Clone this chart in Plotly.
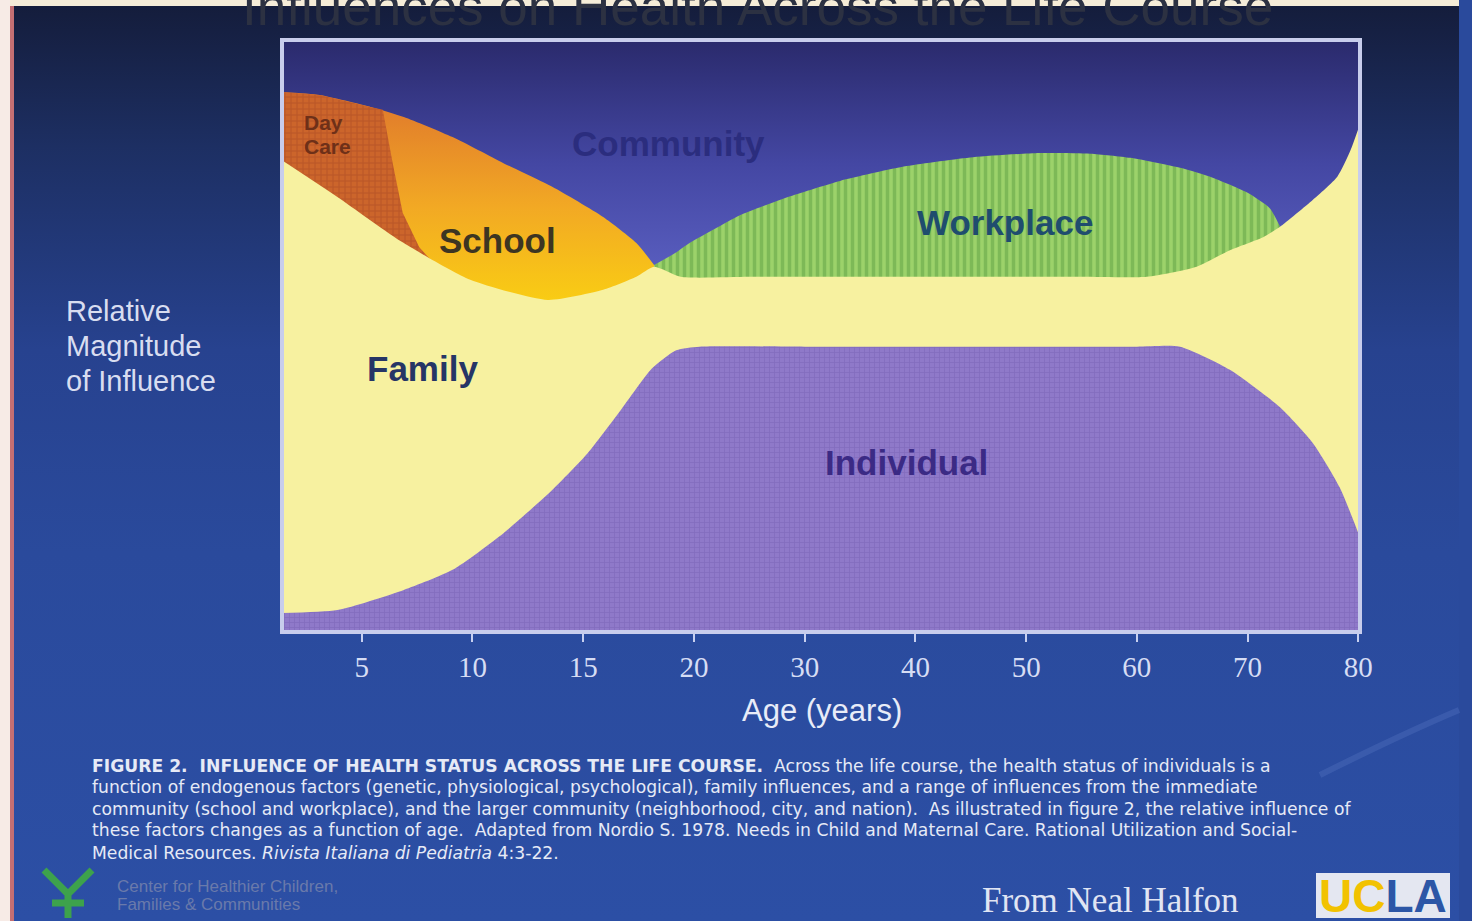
import numpy as np
import plotly.graph_objects as go

# x axis of the slide: 5-year steps up to 20, then 10-year steps, all equally spaced
tick_ages = [5, 10, 15, 20, 30, 40, 50, 60, 70, 80]
tick_text = [str(a) for a in tick_ages]

# relative magnitude of influence (0 = bottom of frame, 100 = top)
individual_age = [1.4, 3.9, 6.9, 9.1, 11.4, 13.6, 15.2, 16.7, 18.1, 19.2, 20.5, 30, 40, 50, 60, 63.9, 68.4, 72.9, 75.9, 78.3, 80]
individual_top = [3.2, 3.7, 7.1, 10.5, 16.7, 24.0, 30.2, 37.5, 44.5, 47.6, 48.2, 48.2, 48.2, 48.2, 48.2, 48.2, 44.3, 38.0, 31.9, 24.5, 16.7]

family_age = [1.4, 3.9, 6.9, 9.9, 13.4, 15.9, 17.4, 18.2, 19.4, 25, 35, 45, 55, 60.9, 65.4, 68.4, 71.4, 72.9, 75.9, 78.1, 79.3, 80]
family_top = [79.7, 73.5, 65.7, 59.5, 56.1, 57.8, 60.0, 61.7, 60.0, 60.0, 60.0, 60.0, 60.0, 60.0, 61.7, 64.5, 66.7, 68.4, 73.0, 76.9, 81.4, 85.0]

school_age = [1.4, 3.1, 5.4, 6.9, 9.1, 11.4, 13.6, 15.9, 17.4, 18.2]
school_top = [91.2, 90.7, 88.7, 87.0, 83.6, 79.2, 75.2, 70.1, 65.7, 62.0]

# right-hand edge of the day care wedge (it runs along the school top on the left)
daycare_edge_age = [5.95, 6.4, 6.85, 7.6, 8.2]
daycare_edge_y = [88.2, 79.2, 70.8, 65.0, 62.5]

workplace_age = [18.2, 19.15, 19.8, 21.9, 24.15, 28.7, 33.2, 39.2, 45.2, 51.2, 55.8, 59.4, 63.9, 66.9, 70.0, 72.0, 72.9]
workplace_top = [62.0, 64.0, 65.7, 68.1, 70.4, 73.6, 76.2, 78.7, 80.2, 80.9, 80.8, 80.1, 78.4, 76.7, 74.2, 71.6, 68.6]

community_age = [1.4, 80]
community_top = [100, 100]

caption_lines = [
    "<b>FIGURE 2.  INFLUENCE OF HEALTH STATUS ACROSS THE LIFE COURSE.</b>  Across the life course, the health status of individuals is a",
    "function of endogenous factors (genetic, physiological, psychological), family influences, and a range of influences from the immediate",
    "community (school and workplace), and the larger community (neighborhood, city, and nation).  As illustrated in figure 2, the relative influence of",
    "these factors changes as a function of age.  Adapted from Nordio S. 1978. Needs in Child and Maternal Care. Rational Utilization and Social-",
    "Medical Resources. <i>Rivista Italiana di Pediatria</i> 4:3-22.",
]

W, H = 1472, 921
# in this window the drawn paper comes out about 13 px narrower than the figure,
# so paper fractions are taken against that width to land on the slide's pixels
PAPER_W = W - 13

axis_ages = [0] + tick_ages
axis_pos = list(range(len(axis_ages)))


def to_pos(ages):
    return np.interp(ages, axis_ages, axis_pos)


def px(x):
    return x / PAPER_W


def py(y):
    return 1 - y / H


spline = dict(width=0, shape="spline", smoothing=0.6)

fig = go.Figure()

# slide background
fig.add_trace(go.Scatter(
    x=[0, 1], y=[1, 1], fill="tozeroy", mode="lines", line=dict(width=0),
    fillgradient=dict(type="vertical", colorscale=[
        [0, "#2c4fa5"], [0.4, "#2a4a9c"], [0.62, "#27428f"], [0.84, "#1d2f63"], [1, "#141c3a"]]),
    hoverinfo="skip", xaxis="x", yaxis="y"))

# community
fig.add_trace(go.Scatter(
    x=to_pos(community_age), y=community_top, fill="tozeroy", mode="lines", line=dict(width=0),
    fillgradient=dict(type="vertical", start=58, stop=100, colorscale=[
        [0, "#5c61c3"], [0.5, "#4447a3"], [1, "#2a2a6c"]]),
    xaxis="x2", yaxis="y2", hoverinfo="skip"))

# workplace
fig.add_trace(go.Scatter(
    x=to_pos(workplace_age), y=workplace_top, fill="tozeroy", mode="lines", line=spline,
    fillpattern=dict(shape="|", bgcolor="#9cd26a", fgcolor="#5e9f44", size=7, solidity=0.5),
    xaxis="x2", yaxis="y2", hoverinfo="skip"))

# school
fig.add_trace(go.Scatter(
    x=to_pos(school_age), y=school_top, fill="tozeroy", mode="lines", line=spline,
    fillgradient=dict(type="vertical", start=56, stop=91, colorscale=[
        [0, "#f9cc14"], [0.45, "#f2a924"], [1, "#df772c"]]),
    xaxis="x2", yaxis="y2", hoverinfo="skip"))

# day care
dc_mask = np.array(school_age) < daycare_edge_age[0]
dc_x = list(np.array(school_age)[dc_mask]) + daycare_edge_age
dc_y = list(np.array(school_top)[dc_mask]) + daycare_edge_y
fig.add_trace(go.Scatter(
    x=to_pos(dc_x), y=dc_y, fill="tozeroy", mode="lines", line=dict(width=0),
    fillpattern=dict(shape="+", bgcolor="#cc652b", fgcolor="#a44622", size=6, solidity=0.3),
    xaxis="x2", yaxis="y2", hoverinfo="skip"))

# family
fig.add_trace(go.Scatter(
    x=to_pos(family_age), y=family_top, fill="tozeroy", mode="lines", line=spline,
    fillcolor="#f7f1a0", xaxis="x2", yaxis="y2", hoverinfo="skip"))

# individual
fig.add_trace(go.Scatter(
    x=to_pos(individual_age), y=individual_top, fill="tozeroy", mode="lines", line=spline,
    fillpattern=dict(shape="+", bgcolor="#8f79c9", fgcolor="#7660b2", size=5, solidity=0.3),
    xaxis="x2", yaxis="y2", hoverinfo="skip"))

x_dom = [px(282), px(1360)]
y_dom = [py(632), py(40)]

fig.update_layout(
    width=W, height=H, autosize=False, margin=dict(l=0, r=0, t=0, b=0),
    paper_bgcolor="#2a4a9c", plot_bgcolor="rgba(0,0,0,0)", showlegend=False,
    xaxis=dict(domain=[0, 1], range=[0, 1], visible=False, fixedrange=True),
    yaxis=dict(domain=[0, 1], range=[0, 1], visible=False, fixedrange=True),
    xaxis2=dict(domain=x_dom, anchor="y2", range=[to_pos(1.4), 10.015],
                tickvals=to_pos(tick_ages), ticktext=tick_text,
                ticks="outside", ticklen=9, tickwidth=2, tickcolor="#c8d0f0",
                tickfont=dict(family="Liberation Serif", size=29, color="#d6ddf4"),
                showgrid=False, zeroline=False, showline=False),
    yaxis2=dict(domain=y_dom, anchor="x2", range=[0, 100], visible=False),
)

shapes = [
    dict(type="rect", xref="x2 domain", yref="y2 domain", x0=0, x1=1, y0=0, y1=1,
         line=dict(color="#c8cdec", width=4), layer="above"),
    dict(type="rect", xref="paper", yref="paper", x0=0, x1=1, y0=py(6), y1=1,
         fillcolor="#f5ecd8", line=dict(width=0)),
    dict(type="rect", xref="paper", yref="paper", x0=0, x1=px(10), y0=0, y1=1,
         fillcolor="#f7ebe6", line=dict(width=0)),
    dict(type="rect", xref="paper", yref="paper", x0=px(10), x1=px(14), y0=0, y1=py(6),
         fillcolor="#c46f73", line=dict(width=0)),
    dict(type="path", xref="paper", yref="paper",
         path=f"M {px(1320)},{py(775)} Q {px(1400)},{py(735)} {px(1459)},{py(710)}",
         line=dict(color="rgba(120,150,220,0.2)", width=6)),
    dict(type="path", xref="paper", yref="paper",
         path=(f"M {px(44)},{py(870)} L {px(68)},{py(894)} L {px(92)},{py(870)} "
               f"M {px(68)},{py(894)} L {px(68)},{py(918)} "
               f"M {px(52)},{py(903)} L {px(84)},{py(903)}"),
         line=dict(color="#3da24c", width=7)),
    dict(type="rect", xref="paper", yref="paper", x0=px(1316), x1=px(1450), y0=py(918), y1=py(873),
         fillcolor="#e4e7f1", line=dict(width=0)),
]
fig.update_layout(shapes=shapes)


def label(text, x, y, size, color, xanchor="center", family="Liberation Sans", yanchor="middle"):
    fig.add_annotation(text=text, x=px(x), y=py(y), xref="paper", yref="paper",
                       xanchor=xanchor, yanchor=yanchor, showarrow=False, align="left",
                       font=dict(family=family, size=size, color=color))


# cut-off slide title
label("Influences on Health Across the Life Course", 757, 38, 53, "#2c3142", yanchor="bottom")

# region labels
label("<b>Day</b>", 302, 122, 21, "#6e3018", xanchor="left")
label("<b>Care</b>", 302, 147, 21, "#6e3018", xanchor="left")
label("<b>Community</b>", 668, 143, 35, "#2b2d7e")
label("<b>School</b>", 497, 240, 35, "#3c3522")
label("<b>Workplace</b>", 1005, 222, 35, "#1f4d6e")
label("<b>Family</b>", 422, 369, 35, "#263566")
label("<b>Individual</b>", 906, 462, 35, "#3b2a85")

# axis titles
label("Relative", 64, 311, 29, "#d8ddf0", xanchor="left")
label("Magnitude", 64, 346, 29, "#d8ddf0", xanchor="left")
label("of Influence", 64, 381, 29, "#d8ddf0", xanchor="left")
label("Age (years)", 822, 710, 31, "#e8ecf8")

# caption
for line, yy in zip(caption_lines, [766, 787, 809, 830, 853]):
    label(line, 90, yy, 17.2, "#e6eaf6", xanchor="left", family="DejaVu Sans")

# footer
label("Center for Healthier Children,", 115, 886, 17, "#6a7aab", xanchor="left")
label("Families & Communities", 115, 904, 17, "#6a7aab", xanchor="left")
label("From Neal Halfon", 1110, 900, 35, "#e0e5f3", family="Liberation Serif")
label("<b><span style='color:#f2c200'>UC</span><span style='color:#2c56a6'>LA</span></b>",
      1383, 896, 46, "#2c56a6")

# drop the page's default body margin and scrollbars so the slide fills the window
page_fix = ("document.documentElement.style.overflow = 'hidden';"
            "document.body.style.overflow = 'hidden';"
            "document.body.style.margin = '0';")
fig.write_html("out.html", config={"displayModeBar": False, "responsive": False},
               post_script=page_fix)
